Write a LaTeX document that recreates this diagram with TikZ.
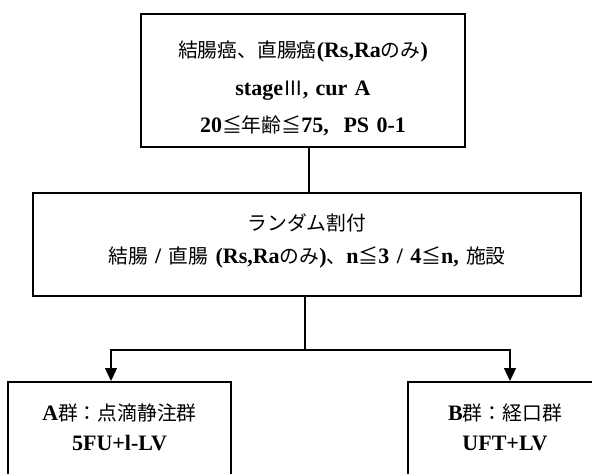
\documentclass[tikz,border=0pt]{standalone}
\usepackage{fontspec}
\setmainfont{Liberation Serif}
\newfontfamily\ja{Noto Sans CJK JP}[Scale=0.9]
\newcommand{\jtext}[1]{{\ja\mdseries #1}}
\usetikzlibrary{arrows.meta}
\tikzset{>={Triangle[length=13pt,width=12pt]}}
\tikzset{
  box/.style={draw, line width=1.6pt, inner sep=0pt, align=center, anchor=north},
  link/.style={line width=1.4pt},
}

\begin{document}
\begin{tikzpicture}[x=1pt,y=-1pt]
    \clip (0,0) rectangle (592,474);

    \node[box, text width=324pt, text height=44pt, text depth=89pt,
          font=\bfseries\fontsize{22}{37.5}\selectfont] (elig) at (303,13)
      {\jtext{結腸癌、直腸癌}(Rs,Ra\jtext{のみ})\\
       stage\jtext{Ⅲ}, cur A\\
       20\jtext{≦年齢≦}75,\ \ PS 0-1};

    \node[box, text width=548pt, text height=38pt, text depth=65pt,
          font=\bfseries\fontsize{22}{33}\selectfont] (rand) at (307,192)
      {\jtext{ランダム割付}\\
       \jtext{結腸}\ /\ \jtext{直腸}\ (Rs,Ra\jtext{のみ})\jtext{、}n\jtext{≦}3 / 4\jtext{≦}n,\ \jtext{施設}};

    \begin{scope}[font=\bfseries\fontsize{22}{30}\selectfont]
      \node[box, text width=223pt, text height=39pt, text depth=100pt] (grpA) at (119.5,381)
        {A\jtext{群：点滴静注群}\\ 5FU+l-LV};
      \node[box, text width=194pt, text height=39pt, text depth=100pt] (grpB) at (505,381)
        {B\jtext{群：経口群}\\ UFT+LV};
    \end{scope}

    \coordinate (split) at (305,350);
    \draw[link] ([xshift=6pt]elig.south) -- ([xshift=6pt]elig.south |- rand.north);
    \draw[link] ([xshift=-2pt]rand.south) -- (split);
    \draw[link, ->] (split) -| ([xshift=-8.5pt]grpA.north);
    \draw[link, ->] (split) -| ([xshift=5pt]grpB.north);
\end{tikzpicture}
\end{document}
